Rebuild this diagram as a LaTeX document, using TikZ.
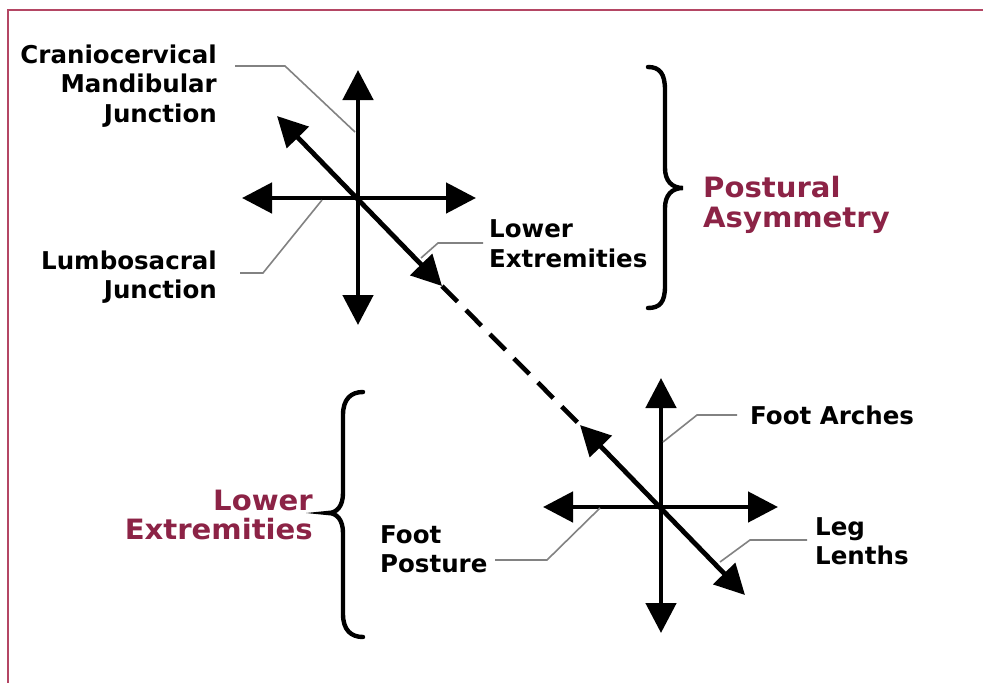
\documentclass[tikz,border=0pt]{standalone}
\usepackage{fontspec}
\setmainfont{DejaVu Sans}
\newfontfamily\widefont{DejaVu Sans}[FakeStretch=1.04]
\usetikzlibrary{arrows.meta}
\definecolor{wine}{RGB}{140,35,70}
\definecolor{frame}{RGB}{180,70,100}
\definecolor{leadgray}{RGB}{130,130,130}
\tikzset{
  ax/.style={line width=4.8pt, {Triangle[length=30pt,width=30pt]}-{Triangle[length=30pt,width=30pt]}},
  dashseg/.style={line width=4.6pt, dash pattern=on 22pt off 12pt},
  leader/.style={line width=1.6pt, leadgray},
  brace/.style={line width=4.4pt, line cap=round},
  blab/.style={inner sep=0pt, font=\bfseries\fontsize{24.5}{29.5}\selectfont},
  plab/.style={inner sep=0pt, text=wine, font=\widefont\bfseries\fontsize{28}{29.5}\selectfont},
}
\begin{document}
\begin{tikzpicture}[x=1pt,y=-1pt]
\useasboundingbox (0,0) rectangle (983,683);
\fill[white] (0,0) rectangle (983,683);
% frame
\draw[frame, line width=2pt] (8,683) -- (8,10) -- (983,10);

% crosses
\coordinate (c1) at (358,198);
\coordinate (c2) at (661,507);
\coordinate (t1) at (358,70);  \coordinate (b1) at (358,325);
\coordinate (l1) at (242,198); \coordinate (r1) at (476,198);
\coordinate (ul1) at (277,116); \coordinate (lr1) at (442,286);
\coordinate (t2) at (661,378); \coordinate (b2) at (661,633);
\coordinate (l2) at (543,507); \coordinate (r2) at (778,507);
\coordinate (ul2) at (580,425); \coordinate (lr2) at (745,595);

\draw[ax] (b1) -- (t1);
\draw[ax] (l1) -- (r1);
\draw[ax] (ul1) -- (lr1);
\draw[dashseg] (lr1) -- (ul2);
\draw[ax] (b2) -- (t2);
\draw[ax] (l2) -- (r2);
\draw[ax] (ul2) -- (lr2);

% braces
\draw[brace] (648,67) .. controls (660,67) and (665,74) .. (665,90) -- (665,168)
  .. controls (665,181) and (672,188) .. (683,188)
  .. controls (672,188) and (665,195) .. (665,208) -- (665,286)
  .. controls (665,302) and (660,308) .. (648,308);
\draw[brace] (363,392) .. controls (351,392) and (343,399) .. (343,415) -- (343,493)
  .. controls (343,506) and (337,513) .. (328,513)
  .. controls (337,513) and (343,520) .. (343,533) -- (343,614)
  .. controls (343,630) and (351,637) .. (363,637);

% labels
\node[blab, anchor=east, align=right] (cranio) at (217,86) {Craniocervical\\Mandibular\\Junction};
\node[blab, anchor=east, align=right] (lumbo) at (217,277) {Lumbosacral\\Junction};
\node[blab, anchor=west, align=left] (lowex) at (489,243.5) {Lower\\Extremities};
\node[blab, anchor=west] (arches) at (750,415) {Foot Arches};
\node[blab, anchor=west, align=left] (posture) at (380,549) {Foot\\Posture};
\node[blab, anchor=west, align=left] (leg) at (815,541) {Leg\\Lenths};
\node[plab, anchor=west, align=left] (postural) at (703,205) {Postural\\Asymmetry};
\node[plab, anchor=east, align=right] (lowerext) at (313,515) {Lower\\Extremities};

% leaders
\coordinate (k1a) at (235,66);  \coordinate (k1b) at (285,66);  \coordinate (k1c) at (355,132);
\coordinate (k2a) at (240,273); \coordinate (k2b) at (263,273); \coordinate (k2c) at (322,200);
\coordinate (k3a) at (483,243); \coordinate (k3b) at (438,243); \coordinate (k3c) at (421,258);
\coordinate (k4a) at (737,415); \coordinate (k4b) at (697,415); \coordinate (k4c) at (663,442);
\coordinate (k5a) at (495,560); \coordinate (k5b) at (547,560); \coordinate (k5c) at (600,508);
\coordinate (k6a) at (807,540); \coordinate (k6b) at (750,540); \coordinate (k6c) at (720,562);
\draw[leader] (k1a) -- (k1b) -- (k1c);
\draw[leader] (k2a) -- (k2b) -- (k2c);
\draw[leader] (k3a) -- (k3b) -- (k3c);
\draw[leader] (k4a) -- (k4b) -- (k4c);
\draw[leader] (k5a) -- (k5b) -- (k5c);
\draw[leader] (k6a) -- (k6b) -- (k6c);
\end{tikzpicture}
\end{document}
